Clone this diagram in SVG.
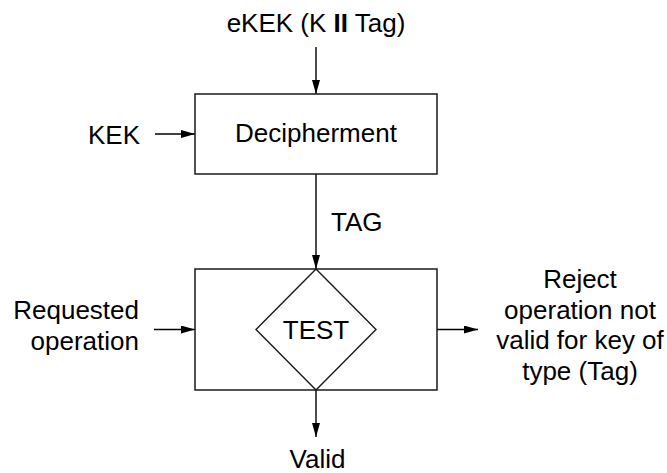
<svg xmlns="http://www.w3.org/2000/svg" width="667" height="473" viewBox="0 0 667 473">
<defs>
<style>
.box{fill:#ffffff;stroke:#1a1a1a;stroke-width:1.5}
.conn{stroke:#000000;stroke-width:1.4;fill:none;marker-end:url(#arrow)}
text{font-family:"Liberation Sans",Arial,sans-serif;font-size:26px;fill:#000000}
.c{text-anchor:middle}
.r{text-anchor:end}
</style>
<marker id="arrow" markerUnits="userSpaceOnUse" markerWidth="14" markerHeight="8" refX="14" refY="4" orient="auto">
<path d="M0,0 L14,4 L0,8 z" fill="#000000"/>
</marker>
</defs>
<rect width="667" height="473" fill="#ffffff"/>
<g id="connectors">
<line class="conn" x1="316" y1="47" x2="316" y2="94"/>
<line class="conn" x1="155" y1="134" x2="195" y2="134"/>
<line class="conn" x1="316" y1="174" x2="316" y2="269"/>
<line class="conn" x1="154" y1="329.5" x2="195" y2="329.5"/>
<line class="conn" x1="437" y1="329.5" x2="478" y2="329.5"/>
<line class="conn" x1="316" y1="390" x2="316" y2="437"/>
</g>
<g id="node-input-ekek"><text class="c" x="316" y="32">eKEK (K <tspan font-weight="bold">II</tspan> Tag)</text></g>
<g id="node-kek"><text x="88" y="144">KEK</text></g>
<g id="node-decipherment">
<rect class="box" x="195" y="94" width="242" height="80"/>
<text class="c" x="316" y="142">Decipherment</text>
</g>
<g id="node-tag-label"><text x="331" y="231">TAG</text></g>
<g id="node-test">
<rect class="box" x="195" y="269" width="242" height="121"/>
<polygon points="316,269 376,329.5 316,390 256,329.5" fill="#ffffff" stroke="#1a1a1a" stroke-width="1.4"/>
<text class="c" x="316" y="338.5">TEST</text>
</g>
<g id="node-requested"><text class="r" x="139" y="318.5">Requested</text><text class="r" x="139" y="350">operation</text></g>
<g id="node-reject">
<text class="c" x="580" y="288">Reject</text>
<text class="c" x="580" y="318.5">operation not</text>
<text class="c" x="580" y="349">valid for key of</text>
<text class="c" x="580" y="379.5">type (Tag)</text>
</g>
<g id="node-valid"><text class="c" x="317.5" y="468">Valid</text></g>
</svg>
